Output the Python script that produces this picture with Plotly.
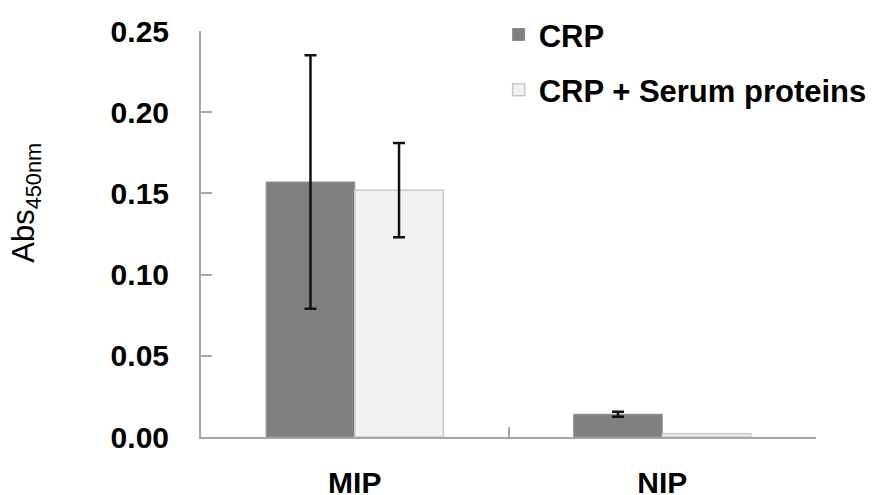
import plotly.graph_objects as go

categories = ["MIP", "NIP"]
crp_values = [0.157, 0.014]
crp_errors = [0.078, 0.0016]
serum_values = [0.152, 0.002]
serum_errors = [0.029]  # NIP serum bar shows no error bar
series_names = ["CRP", "CRP + Serum proteins"]
y_ticks = [0.00, 0.05, 0.10, 0.15, 0.20, 0.25]

FONT = "Liberation Sans, Arial, sans-serif"
AXIS_GREY = "#a6a6a6"

fig = go.Figure()
fig.add_trace(go.Bar(
    x=categories, y=crp_values, name=series_names[0], legendgroup="a",
    marker=dict(color="#808080", line=dict(color="#8c8c8c", width=1)),
    error_y=dict(type="data", array=crp_errors, visible=True,
                 color="#111111", thickness=2.5, width=6),
))
fig.add_trace(go.Bar(
    x=categories, y=serum_values, name=series_names[1], legendgroup="b",
    marker=dict(color="#f2f2f2", line=dict(color="#c8c8c8", width=1.5)),
    error_y=dict(type="data", array=serum_errors, visible=True,
                 color="#111111", thickness=2.5, width=6),
))

fig.update_layout(
    width=878, height=495,
    margin=dict(l=201, r=62, t=31, b=58, autoexpand=False),
    paper_bgcolor="white", plot_bgcolor="white",
    barmode="group", bargap=0.424, bargroupgap=0,
    font=dict(family=FONT, color="black"),
    showlegend=True,
    legend=dict(
        x=0.484, y=1.057, xanchor="left", yanchor="top",
        font=dict(size=31, family=FONT, weight="bold"),
        tracegroupgap=12, bgcolor="rgba(0,0,0,0)",
    ),
    annotations=[dict(
        text="Abs<sub>450nm</sub>", textangle=-90,
        xref="paper", yref="paper", x=-0.284, y=0.578,
        xanchor="center", yanchor="middle", showarrow=False,
        font=dict(size=31, family=FONT),
    )],
)
fig.update_yaxes(
    range=[0, 0.25], tickvals=y_ticks, tickformat=".2f",
    ticks="inside", ticklen=11, tickcolor=AXIS_GREY, tickwidth=1.5,
    showline=True, linecolor=AXIS_GREY, linewidth=2,
    showgrid=False, zeroline=False, automargin=False,
    tickfont=dict(size=30, family=FONT, weight="bold"),
    ticklabelstandoff=24,
)
fig.update_xaxes(
    tickson="boundaries", ticks="inside", ticklen=10, tickcolor=AXIS_GREY,
    tickwidth=1.5, showline=True, linecolor=AXIS_GREY, linewidth=2,
    showgrid=False, zeroline=False, automargin=False,
    tickfont=dict(size=30, family=FONT, weight="bold"),
    ticklabelstandoff=18,
)

fig.write_html("out.html")
